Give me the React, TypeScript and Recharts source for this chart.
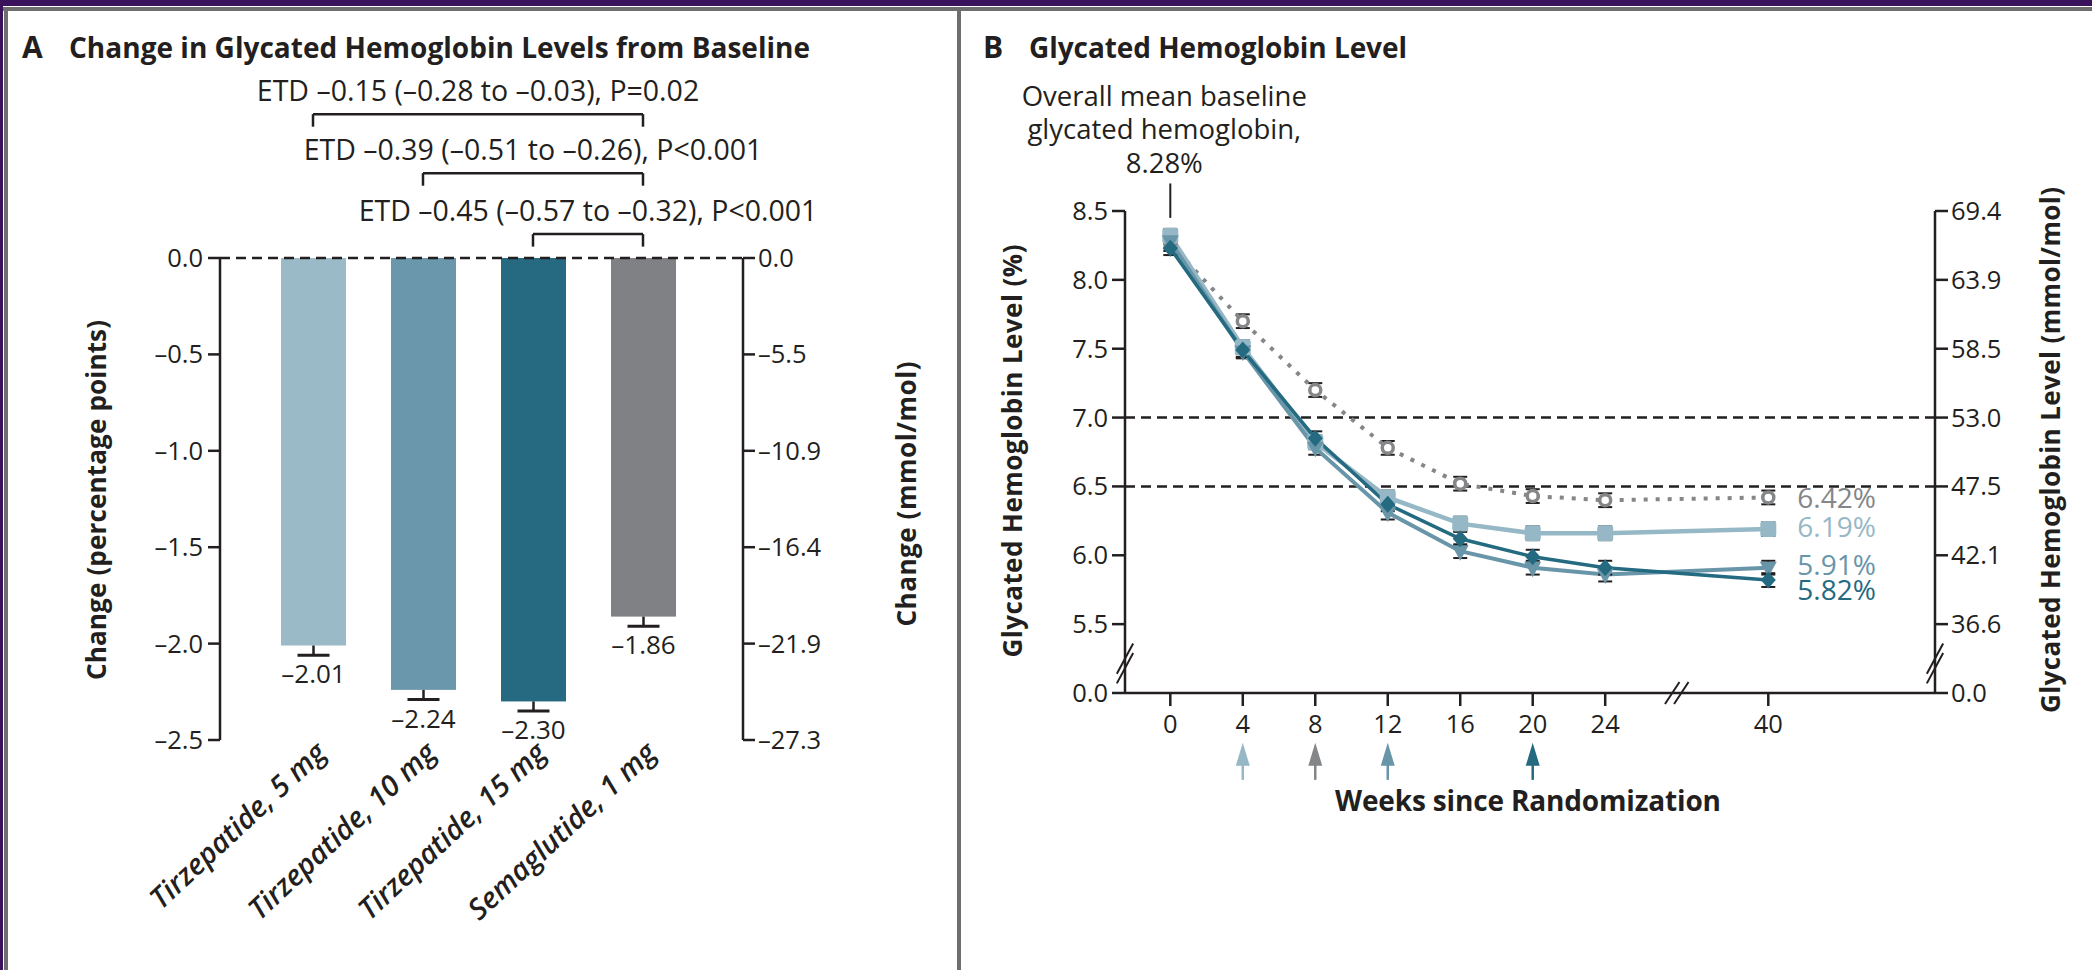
import React from 'react';
import {
  BarChart, Bar, Cell, XAxis, YAxis, ReferenceLine, ReferenceDot,
  LineChart, Line, ErrorBar,
} from 'recharts';

// ---------------- Panel A data ----------------
const barCategories = ['Tirzepatide, 5 mg', 'Tirzepatide, 10 mg', 'Tirzepatide, 15 mg', 'Semaglutide, 1 mg'];
const barValues = [-2.01, -2.24, -2.30, -1.86];
const barErrors = [0.05, 0.05, 0.05, 0.05];
const barColors = ['#9bbac7', '#6a97ab', '#256a80', '#808184'];
const pctTicksA = [0, -0.5, -1.0, -1.5, -2.0, -2.5];
const mmolTickLabelsA = ['0.0', '\u20135.5', '\u201310.9', '\u201316.4', '\u201321.9', '\u201327.3'];

const etdLabels = [
  'ETD \u20130.15 (\u20130.28 to \u20130.03), P=0.02',
  'ETD \u20130.39 (\u20130.51 to \u20130.26), P<0.001',
  'ETD \u20130.45 (\u20130.57 to \u20130.32), P<0.001',
];
const etdFrom = [0, 1, 2];
const etdTo = [3, 3, 3];
const etdLevel = [0.746, 0.44, 0.124];
const etdDrop = 0.065;

// ---------------- Panel B data ----------------
const weeks = [0, 4, 8, 12, 16, 20, 24, 40];
const weekTickLabels = ['0', '4', '8', '12', '16', '20', '24', '40'];
const tirz5 = [8.32, 7.51, 6.82, 6.42, 6.23, 6.16, 6.16, 6.19];
const tirz10 = [8.28, 7.48, 6.78, 6.31, 6.03, 5.91, 5.86, 5.91];
const tirz15 = [8.23, 7.49, 6.85, 6.37, 6.12, 5.99, 5.91, 5.82];
const sema = [8.26, 7.70, 7.20, 6.78, 6.52, 6.43, 6.40, 6.42];
const tirz5Err = [0.05, 0.05, 0.05, 0.05, 0.05, 0.05, 0.05, 0.05];
const tirz10Err = [0.05, 0.05, 0.05, 0.05, 0.05, 0.05, 0.05, 0.05];
const tirz15Err = [0.05, 0.05, 0.05, 0.05, 0.05, 0.05, 0.05, 0.05];
const semaErr = [0.05, 0.05, 0.05, 0.05, 0.05, 0.05, 0.05, 0.05];
const endLabels = { sema: '6.42%', t5: '6.19%', t10: '5.91%', t15: '5.82%' };
const pctTicksB = [5.0, 5.5, 6.0, 6.5, 7.0, 7.5, 8.0, 8.5];
const pctTickLabelsB = ['0.0', '5.5', '6.0', '6.5', '7.0', '7.5', '8.0', '8.5'];
const mmolTickLabelsB = ['0.0', '36.6', '42.1', '47.5', '53.0', '58.5', '63.9', '69.4'];
const targetLines = [7.0, 6.5];
const arrowWeeks = [4, 8, 12, 20];
const baselineMean = '8.28%';

// colours
const INK = '#231f20';
const C_T5 = '#96b8c6';
const C_T10 = '#6995a9';
const C_T15 = '#246a80';
const C_SEMA = '#858688';
const arrowColors = [C_T5, C_SEMA, C_T10, C_T15];

const FONT = '"Open Sans", Lato, "DejaVu Sans", sans-serif';

// axis break: weeks after 24 are compressed (24 -> 40 drawn as 9 week-units)
const weekToPos = (w: number) => (w <= 24 ? w : 24 + ((w - 24) * 9) / 16);

const barData = barCategories.map((name, i) => ({ name, value: barValues[i], err: barErrors[i] }));
const lineData = weeks.map((w, i) => ({
  pos: weekToPos(w),
  week: w,
  t5: tirz5[i], t10: tirz10[i], t15: tirz15[i], sema: sema[i],
  t5Err: tirz5Err[i], t10Err: tirz10Err[i], t15Err: tirz15Err[i], semaErr: semaErr[i],
}));
const weekTickPos = weeks.map(weekToPos);

const dash = (v: number) => (v < 0 ? '\u2013' + Math.abs(v).toFixed(2) : v.toFixed(2));
const fmt1 = (v: number) => (v === 0 ? '0.0' : (v < 0 ? '\u2013' : '') + Math.abs(v).toFixed(1));

// ---------- Panel A bar shape (bar + lower whisker + value label) ----------
const BarShape = (props: any) => {
  const { x, y, width, height, fill, payload } = props;
  if (x == null || y == null) return null;
  const top = Math.min(y, y + height);
  const bottom = Math.max(y, y + height);
  const h = bottom - top;
  const pxPerUnit = h / Math.abs(payload.value);
  const errPx = payload.err * pxPerUnit;
  const cx = x + width / 2;
  return (
    <g>
      <rect x={x} y={top} width={width} height={h} fill={fill} />
      <line x1={cx} y1={bottom} x2={cx} y2={bottom + errPx} stroke={INK} strokeWidth={2.5} />
      <line x1={cx - 16} y1={bottom + errPx} x2={cx + 16} y2={bottom + errPx} stroke={INK} strokeWidth={3} />
      <text x={cx} y={bottom + errPx + 28} textAnchor="middle" fontSize={26} fill={INK} fontFamily={FONT}>
        {dash(payload.value)}
      </text>
    </g>
  );
};

const CatTick = (props: any) => {
  const { x, y, payload } = props;
  return (
    <text
      transform={`translate(${x + 15}, ${y + 15}) rotate(-43)`}
      textAnchor="end"
      fontSize={29}
      fontStyle="italic"
      fontWeight={600}
      fill={INK}
      fontFamily={FONT}
    >
      {payload.value}
    </text>
  );
};

// ---------- Panel B dots ----------
const squareDot = (color: string) => (p: any) => {
  if (p.cx == null) return <g key={`s${p.index}`} />;
  return <rect key={`s${p.index}`} x={p.cx - 8} y={p.cy - 8} width={16} height={16} rx={3} fill={color} />;
};
const triDot = (color: string) => (p: any) => {
  if (p.cx == null) return <g key={`t${p.index}`} />;
  const { cx, cy } = p;
  return <polygon key={`t${p.index}`} points={`${cx - 8.5},${cy - 6} ${cx + 8.5},${cy - 6} ${cx},${cy + 9.5}`} fill={color} />;
};
const diaDot = (color: string) => (p: any) => {
  if (p.cx == null) return <g key={`d${p.index}`} />;
  const { cx, cy } = p;
  return <polygon key={`d${p.index}`} points={`${cx},${cy - 8.5} ${cx + 7.5},${cy} ${cx},${cy + 8.5} ${cx - 7.5},${cy}`} fill={color} />;
};
const ringDot = (color: string) => (p: any) => {
  if (p.cx == null) return <g key={`r${p.index}`} />;
  return <circle key={`r${p.index}`} cx={p.cx} cy={p.cy} r={5.5} fill="#fff" stroke={color} strokeWidth={3.5} />;
};

const endLabel = (text: string, color: string, dy: number) => (p: any) => {
  if (p.index !== weeks.length - 1) return <g key={`l${p.index}`} />;
  return (
    <text key={`l${p.index}`} x={p.x + 29} y={p.y + dy} dominantBaseline="central" fontSize={28} fill={color} fontFamily={FONT}>
      {text}
    </text>
  );
};

const ArrowShape = (color: string) => (p: any) => {
  const { cx, cy } = p;
  return (
    <g>
      <line x1={cx} y1={cy + 2} x2={cx} y2={cy + 18} stroke={color} strokeWidth={2.5} />
      <polygon points={`${cx},${cy - 19} ${cx + 7},${cy + 4} ${cx - 7},${cy + 4}`} fill={color} />
    </g>
  );
};

const BaselineAnnot = (p: any) => {
  const vb = p.viewBox || {};
  const cx = vb.x;
  const top = vb.y;
  const lines = ['Overall mean baseline', 'glycated hemoglobin,', baselineMean];
  return (
    <g>
      {lines.map((l, i) => (
        <text key={i} x={cx - 6} y={top - 88 + i * 33.5} textAnchor="middle" dominantBaseline="central" fontSize={27.5} fill={INK} fontFamily={FONT}>
          {l}
        </text>
      ))}
    </g>
  );
};

const axisStroke = { stroke: INK, strokeWidth: 2.5 };
const tickStyle = { fontSize: 25.5, fill: INK, fontFamily: FONT };

function PanelA() {
  return (
    <BarChart
      width={958}
      height={970}
      data={barData}
      margin={{ top: 258, right: 135, bottom: 170, left: 140 }}
      barSize={65}
    >
      <XAxis
        dataKey="name"
        padding={{ left: 38, right: 45 }}
        axisLine={false}
        tickLine={false}
        tickSize={0}
        tickMargin={0}
        height={60}
        interval={0}
        tick={<CatTick />}
      />
      <YAxis
        yAxisId="left"
        width={80}
        domain={[-2.5, 0]}
        allowDataOverflow
        ticks={pctTicksA}
        tickFormatter={fmt1}
        tickSize={12}
        tickMargin={5}
        axisLine={axisStroke}
        tickLine={axisStroke}
        tick={tickStyle}
      />
      <YAxis
        yAxisId="right"
        orientation="right"
        width={80}
        domain={[-2.5, 0]}
        allowDataOverflow
        ticks={pctTicksA}
        tickFormatter={(v: number) => mmolTickLabelsA[pctTicksA.indexOf(v)]}
        tickSize={12}
        tickMargin={3}
        axisLine={axisStroke}
        tickLine={axisStroke}
        tick={tickStyle}
      />
      <Bar dataKey="value" yAxisId="left" shape={<BarShape />} isAnimationActive={false}>
        {barData.map((d, i) => (
          <Cell key={d.name} fill={barColors[i]} />
        ))}
      </Bar>
      <ReferenceLine yAxisId="left" y={0} stroke={INK} strokeWidth={2.5} strokeDasharray="10 6" />
      {etdLabels.map((lab, i) => (
        <ReferenceLine
          key={`h${i}`}
          yAxisId="left"
          ifOverflow="visible"
          segment={[{ x: barCategories[etdFrom[i]], y: etdLevel[i] }, { x: barCategories[etdTo[i]], y: etdLevel[i] }]}
          stroke={INK}
          strokeWidth={2.5}
          label={{ value: lab, position: 'top', offset: 13, fontSize: 28.5, fill: INK, fontFamily: FONT }}
        />
      ))}
      {etdLabels.map((lab, i) => (
        <ReferenceLine
          key={`a${i}`}
          yAxisId="left"
          ifOverflow="visible"
          segment={[{ x: barCategories[etdFrom[i]], y: etdLevel[i] }, { x: barCategories[etdFrom[i]], y: etdLevel[i] - etdDrop }]}
          stroke={INK}
          strokeWidth={2.5}
        />
      ))}
      {etdLabels.map((lab, i) => (
        <ReferenceLine
          key={`b${i}`}
          yAxisId="left"
          ifOverflow="visible"
          segment={[{ x: barCategories[etdTo[i]], y: etdLevel[i] }, { x: barCategories[etdTo[i]], y: etdLevel[i] - etdDrop }]}
          stroke={INK}
          strokeWidth={2.5}
        />
      ))}
    </BarChart>
  );
}

function PanelB() {
  const breakY = [
    [5.07, 5.29],
    [5.14, 5.36],
  ];
  return (
    <LineChart
      width={1134}
      height={970}
      data={lineData}
      margin={{ top: 211, right: 77, bottom: 227, left: 87 }}
    >
      <XAxis
        dataKey="pos"
        type="number"
        domain={[-2.5, 42.2]}
        allowDataOverflow
        ticks={weekTickPos}
        tickFormatter={(v: number) => weekTickLabels[weekTickPos.indexOf(v)]}
        tickSize={13}
        tickMargin={9}
        height={50}
        axisLine={axisStroke}
        tickLine={axisStroke}
        tick={tickStyle}
      />
      <YAxis
        yAxisId="pct"
        width={80}
        domain={[5, 8.5]}
        allowDataOverflow
        ticks={pctTicksB}
        tickFormatter={(v: number) => pctTickLabelsB[pctTicksB.indexOf(v)]}
        tickSize={13}
        tickMargin={4}
        axisLine={axisStroke}
        tickLine={axisStroke}
        tick={tickStyle}
      />
      <YAxis
        yAxisId="mmol"
        orientation="right"
        width={80}
        domain={[5, 8.5]}
        allowDataOverflow
        ticks={pctTicksB}
        tickFormatter={(v: number) => mmolTickLabelsB[pctTicksB.indexOf(v)]}
        tickSize={13}
        tickMargin={3}
        axisLine={axisStroke}
        tickLine={axisStroke}
        tick={tickStyle}
      />
      {targetLines.map((t) => (
        <ReferenceLine key={t} yAxisId="pct" y={t} stroke={INK} strokeWidth={2.5} strokeDasharray="10 6" />
      ))}
      <Line yAxisId="pct" dataKey="sema" stroke={C_SEMA} strokeWidth={4} strokeDasharray="4 8" dot={ringDot(C_SEMA)} label={endLabel(endLabels.sema, C_SEMA, 0)} isAnimationActive={false}>
        <ErrorBar dataKey="semaErr" width={7} stroke={INK} strokeWidth={2} direction="y" />
      </Line>
      <Line yAxisId="pct" dataKey="t5" stroke={C_T5} strokeWidth={4.5} dot={squareDot(C_T5)} label={endLabel(endLabels.t5, C_T5, -3)} isAnimationActive={false}>
        <ErrorBar dataKey="t5Err" width={7} stroke={INK} strokeWidth={2} direction="y" />
      </Line>
      <Line yAxisId="pct" dataKey="t10" stroke={C_T10} strokeWidth={4} dot={triDot(C_T10)} label={endLabel(endLabels.t10, C_T10, -4)} isAnimationActive={false}>
        <ErrorBar dataKey="t10Err" width={7} stroke={INK} strokeWidth={2} direction="y" />
      </Line>
      <Line yAxisId="pct" dataKey="t15" stroke={C_T15} strokeWidth={3.5} dot={diaDot(C_T15)} label={endLabel(endLabels.t15, C_T15, 9)} isAnimationActive={false}>
        <ErrorBar dataKey="t15Err" width={7} stroke={INK} strokeWidth={2} direction="y" />
      </Line>
      <ReferenceLine
        yAxisId="pct"
        ifOverflow="visible"
        segment={[{ x: 0, y: 8.70 }, { x: 0, y: 8.45 }]}
        stroke={INK}
        strokeWidth={2}
        label={BaselineAnnot}
      />
      {/* y-axis break marks */}
      {[-2.5, 42.2].map((ax) =>
        breakY.map((b, j) => (
          <ReferenceLine
            key={`yb${ax}${j}`}
            yAxisId="pct"
            ifOverflow="visible"
            segment={[{ x: ax - 0.45, y: b[0] }, { x: ax + 0.45, y: b[1] }]}
            stroke={INK}
            strokeWidth={2}
          />
        ))
      )}
      {/* x-axis break marks */}
      {[27.7, 28.2].map((bx) => (
        <ReferenceLine
          key={`xb${bx}`}
          yAxisId="pct"
          ifOverflow="visible"
          segment={[{ x: bx - 0.4, y: 4.92 }, { x: bx + 0.4, y: 5.08 }]}
          stroke={INK}
          strokeWidth={2}
        />
      ))}
      {arrowWeeks.map((w, i) => (
        <ReferenceDot
          key={`ar${w}`}
          yAxisId="pct"
          x={weekToPos(w)}
          y={4.5}
          ifOverflow="visible"
          r={0}
          shape={ArrowShape(arrowColors[i])}
        />
      ))}
    </LineChart>
  );
}

const vText = (text: string, cx: number, cy: number, len: number) => (
  <text
    x={cx}
    y={cy}
    transform={`rotate(-90 ${cx} ${cy})`}
    textAnchor="middle"
    dominantBaseline="central"
    fontSize={26}
    fontWeight={700}
    textLength={len}
    lengthAdjust="spacing"
    fill={INK}
    fontFamily={FONT}
  >
    {text}
  </text>
);

export default function App() {
  return (
    <div style={{ position: 'absolute', left: 0, top: 0, width: 2092, height: 970, background: '#fff', overflow: 'hidden', fontFamily: FONT }}>
      {/* frame */}
      <div style={{ position: 'absolute', left: 0, top: 0, width: 2092, height: 6, background: '#3a135c' }} />
      <div style={{ position: 'absolute', left: 0, top: 7, width: 2092, height: 4, background: '#6e6e6e' }} />
      <div style={{ position: 'absolute', left: 0, top: 0, width: 3, height: 970, background: '#3a135c' }} />
      <div style={{ position: 'absolute', left: 4, top: 7, width: 4, height: 963, background: '#6e6e6e' }} />
      <div style={{ position: 'absolute', left: 957, top: 7, width: 4, height: 963, background: '#6e6e6e' }} />

      <div style={{ position: 'absolute', left: 0, top: 0 }}>
        <PanelA />
      </div>
      <div style={{ position: 'absolute', left: 958, top: 0 }}>
        <PanelB />
      </div>

      <svg width={2092} height={970} style={{ position: 'absolute', left: 0, top: 0, pointerEvents: 'none' }}>
        <text x={22} y={58} fontSize={30} fontWeight={700} fill={INK} fontFamily={FONT}>A</text>
        <text x={69} y={58} fontSize={28} fontWeight={700} fill={INK} fontFamily={FONT} textLength={741} lengthAdjust="spacing">
          Change in Glycated Hemoglobin Levels from Baseline
        </text>
        <text x={983} y={58} fontSize={30} fontWeight={700} fill={INK} fontFamily={FONT}>B</text>
        <text x={1029} y={58} fontSize={28} fontWeight={700} fill={INK} fontFamily={FONT} textLength={378} lengthAdjust="spacing">
          Glycated Hemoglobin Level
        </text>
        {vText('Change (percentage points)', 96, 500, 360)}
        {vText('Change (mmol/mol)', 906, 494, 265)}
        {vText('Glycated Hemoglobin Level (%)', 1012, 451, 413)}
        {vText('Glycated Hemoglobin Level (mmol/mol)', 2050, 450, 526)}
        <text x={1528} y={800} textAnchor="middle" dominantBaseline="central" fontSize={28} fontWeight={700} fill={INK} fontFamily={FONT} textLength={386} lengthAdjust="spacing">
          Weeks since Randomization
        </text>
      </svg>
    </div>
  );
}
